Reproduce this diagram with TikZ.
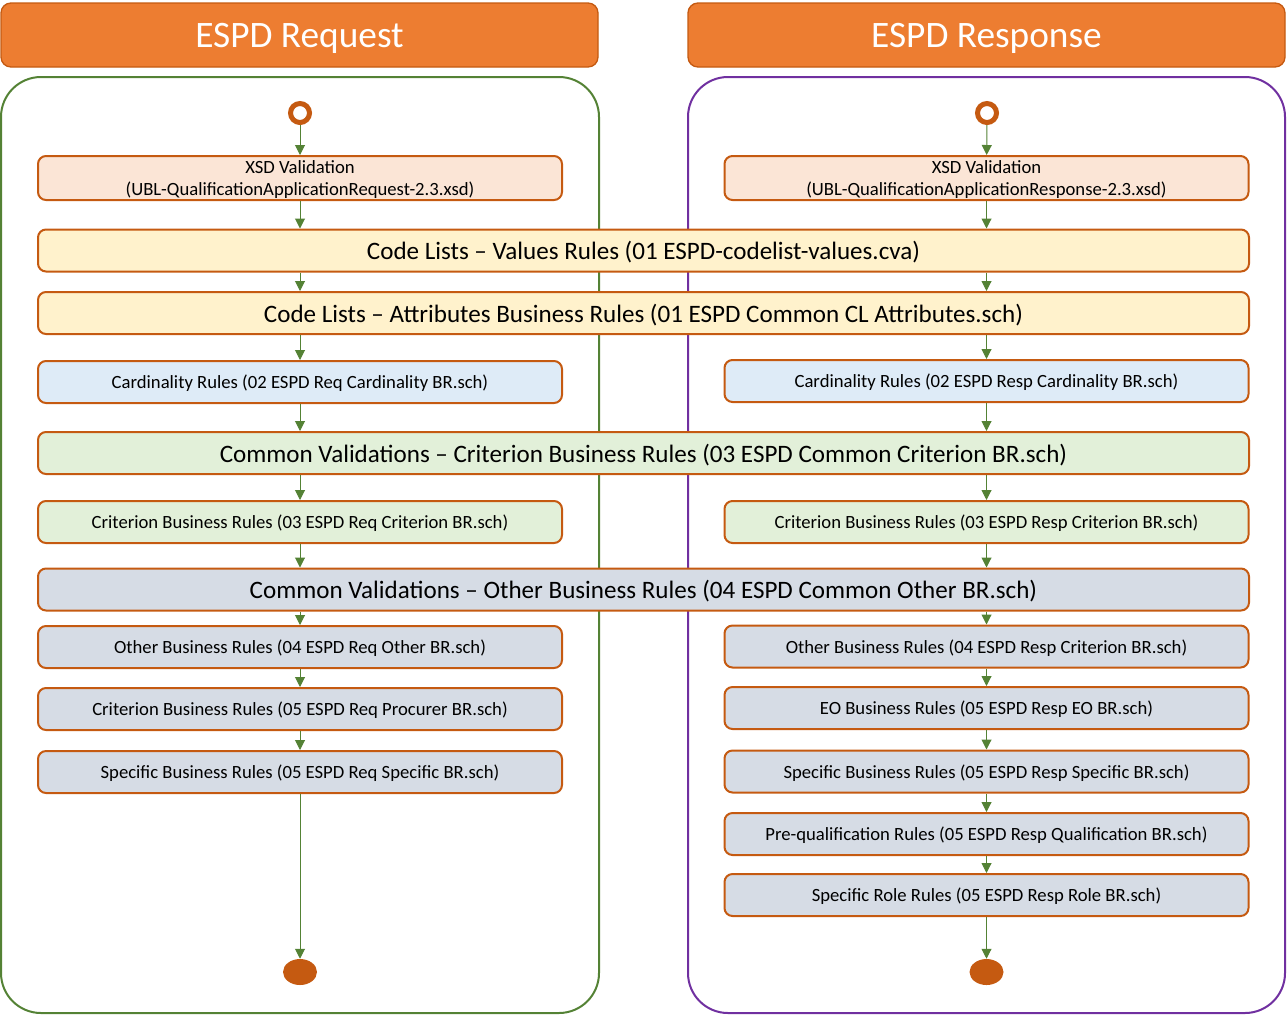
\documentclass[tikz,border=0pt]{standalone}
\usepackage{fontspec}
\setmainfont{Carlito}
\usetikzlibrary{positioning, arrows.meta, shapes.geometric}
\definecolor{hdrorange}{HTML}{ED7D31}
\definecolor{rust}{HTML}{C55A11}
\definecolor{flowgreen}{HTML}{548235}
\definecolor{lanegreen}{HTML}{548235}
\definecolor{lanepurple}{HTML}{7030A0}
\definecolor{xsdfill}{HTML}{FBE5D6}
\definecolor{codefill}{HTML}{FFF2CC}
\definecolor{cardfill}{HTML}{DEEBF7}
\definecolor{critfill}{HTML}{E2F0D9}
\definecolor{otherfill}{HTML}{D6DCE5}
\tikzstyle{Flow} = [
%Create green flow arrow style:
draw=flowgreen, line width=0.75pt,
-{Triangle[width=7.5pt, length=7.5pt]}
]

\begin{document}
\begin{tikzpicture}[x=0.75pt, y=-0.75pt,
			header/.style = {rectangle, rounded corners=7.5pt, fill=hdrorange, draw=rust, line width=1pt, text=white, font=\fontsize{28}{33}\selectfont, text depth=0pt, minimum width=447.75pt, minimum height=48pt},
			lane/.style = {rounded corners=30pt, line width=1.5pt},
			rule/.style = {rectangle, rounded corners=6pt, draw=rust, line width=1.5pt, text centered, font=\fontsize{14}{16.5}\selectfont, text depth=0pt, minimum width=393pt, minimum height=31.5pt, inner sep=0pt},
			widerule/.style = {rule, font=\fontsize{18.8}{22}\selectfont, minimum width=908.25pt},
			start/.style = {circle, draw=rust, fill=white, line width=3.75pt, minimum size=14.25pt, inner sep=0pt},
			stop/.style = {ellipse, fill=rust, minimum width=25.5pt, minimum height=19.5pt, inner sep=0pt},
		]
		\useasboundingbox (0,0) rectangle (1287,1015);
		\draw[lane, draw=lanegreen] (1,77) rectangle (599,1013);
		\draw[lane, draw=lanepurple] (688,77) rectangle (1285,1013);

		\node(reqT)[header] at (299.5,35){ESPD Request};
		\node(resT)[header] at (986.5,35){ESPD Response};

		\node(startL)[start] at (300,113){};
		\node(startR)[start] at (987,113){};

		\node(xsdL)[rule, fill=xsdfill, minimum height=33pt, align=center] at (300,178){XSD Validation\\(UBL-QualificationApplicationRequest-2.3.xsd)};
		\node(xsdR)[rule, fill=xsdfill, minimum height=33pt, align=center] at (986.5,178){XSD Validation\\(UBL-QualificationApplicationResponse-2.3.xsd)};
		\node(clv)[widerule, fill=codefill] at (643.5,250.5){Code Lists -- Values Rules (01 ESPD-codelist-values.cva)};
		\node(cla)[widerule, fill=codefill] at (643.5,313){Code Lists -- Attributes Business Rules (01 ESPD Common CL Attributes.sch)};
		\node(cardL)[rule, fill=cardfill] at (300,382){Cardinality Rules (02 ESPD Req Cardinality BR.sch)};
		\node(cardR)[rule, fill=cardfill] at (986.5,381){Cardinality Rules (02 ESPD Resp Cardinality BR.sch)};
		\node(cvc)[widerule, fill=critfill] at (643.5,453){Common Validations -- Criterion Business Rules (03 ESPD Common Criterion BR.sch)};
		\node(critL)[rule, fill=critfill] at (300,522){Criterion Business Rules (03 ESPD Req Criterion BR.sch)};
		\node(critR)[rule, fill=critfill] at (986.5,522){Criterion Business Rules (03 ESPD Resp Criterion BR.sch)};
		\node(cvo)[widerule, fill=otherfill] at (643.5,589.5){Common Validations -- Other Business Rules (04 ESPD Common Other BR.sch)};
		\node(othL)[rule, fill=otherfill] at (300,647){Other Business Rules (04 ESPD Req Other BR.sch)};
		\node(procL)[rule, fill=otherfill] at (300,709){Criterion Business Rules (05 ESPD Req Procurer BR.sch)};
		\node(specL)[rule, fill=otherfill] at (300,772){Specific Business Rules (05 ESPD Req Specific BR.sch)};
		\node(othR)[rule, fill=otherfill] at (986.5,646.5){Other Business Rules (04 ESPD Resp Criterion BR.sch)};
		\node(eoR)[rule, fill=otherfill] at (986.5,708){EO Business Rules (05 ESPD Resp EO BR.sch)};
		\node(specR)[rule, fill=otherfill] at (986.5,771.5){Specific Business Rules (05 ESPD Resp Specific BR.sch)};
		\node(preR)[rule, fill=otherfill] at (986.5,834){Pre-qualification Rules (05 ESPD Resp Qualification BR.sch)};
		\node(roleR)[rule, fill=otherfill] at (986.5,895){Specific Role Rules (05 ESPD Resp Role BR.sch)};

		\node(stopL)[stop] at (300,972){};
		\node(stopR)[stop] at (986.5,972){};

		\draw[Flow](startL)--(xsdL);
		\draw[Flow](xsdL)--(xsdL |- clv.north);
		\draw[Flow](xsdL |- clv.south)--(xsdL |- cla.north);
		\draw[Flow](xsdL |- cla.south)--(cardL);
		\draw[Flow](cardL)--(cardL |- cvc.north);
		\draw[Flow](cardL |- cvc.south)--(critL);
		\draw[Flow](critL)--(critL |- cvo.north);
		\draw[Flow](critL |- cvo.south)--(othL);
		\draw[Flow](othL)--(procL);
		\draw[Flow](procL)--(specL);
		\draw[Flow](specL)--(stopL);

		\draw[Flow](startR)--(xsdR);
		\draw[Flow](xsdR)--(xsdR |- clv.north);
		\draw[Flow](xsdR |- clv.south)--(xsdR |- cla.north);
		\draw[Flow](xsdR |- cla.south)--(cardR);
		\draw[Flow](cardR)--(cardR |- cvc.north);
		\draw[Flow](cardR |- cvc.south)--(critR);
		\draw[Flow](critR)--(critR |- cvo.north);
		\draw[Flow](critR |- cvo.south)--(othR);
		\draw[Flow](othR)--(eoR);
		\draw[Flow](eoR)--(specR);
		\draw[Flow](specR)--(preR);
		\draw[Flow](preR)--(roleR);
		\draw[Flow](roleR)--(stopR);
	\end{tikzpicture}
\end{document}
